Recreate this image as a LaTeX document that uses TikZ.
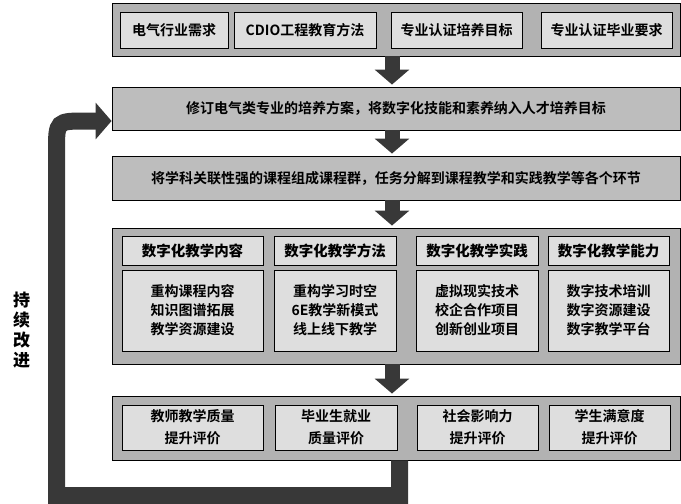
\documentclass[tikz,border=0pt]{standalone}
\usepackage{fontspec}
\setmainfont{Noto Sans CJK SC}[UprightFont=* Bold,BoldFont=* Black]
\usetikzlibrary{arrows.meta,shadows}

\tikzset{
  edge/.style={draw=black, line width=0.9pt, drop shadow={shadow xshift=1.2pt, shadow yshift=-1.2pt, opacity=0.45}},
  panel/.style={edge, fill=black!30, minimum width=568pt, inner sep=0pt},
  band/.style={edge, fill=black!26, minimum width=568pt, inner sep=0pt, font=\fontsize{14}{18}\selectfont},
  cell/.style={edge, fill=black!13, align=center, inner sep=0pt, font=\fontsize{14}{19}\selectfont},
  headcell/.style={cell, font=\bfseries\fontsize{14.5}{18}\selectfont},
  flow/.style={draw=black!78, line width=15pt, shorten >=2pt, -{Triangle[width=34pt,length=15pt]}},
  loopline/.style={draw=black!78, line width=17pt, -{Triangle[width=36pt,length=16pt]}},
}

\begin{document}
\begin{tikzpicture}[x=1pt,y=-1pt]
\useasboundingbox (0,0) rectangle (681,504);
% feedback loop
\node[panel, minimum height=64pt] (assess) at (396,428) {};
\node[band, minimum height=43pt] (plan) at (396,108.5) {修订电气类专业的培养方案，将数字化技能和素养纳入人才培养目标};
\draw[loopline] ([xshift=3.5pt]assess.south) |- (56.5,495.5) -- (56.5,151)
  .. controls (56.5,121) .. (86.5,121) -- ([yshift=-12.5pt]plan.west);
\node[font=\bfseries\fontsize{17}{20}\selectfont, align=center] (improve) at (21.5,330) {持\\续\\改\\进};

% inputs
\node[panel, minimum height=53pt] (inputs) at (396,29.5) {};
\node[cell, minimum width=108pt, minimum height=36pt] (in1) at (174,30) {电气行业需求};
\node[cell, minimum width=142pt, minimum height=36pt] (in2) at (305,30) {CDIO工程教育方法};
\node[cell, minimum width=131pt, minimum height=36pt] (in3) at (456.5,30) {专业认证培养目标};
\node[cell, minimum width=131pt, minimum height=36pt] (in4) at (606.5,30) {专业认证毕业要求};

\node[band, minimum height=44pt] (group) at (396,178) {将学科关联性强的课程组成课程群，任务分解到课程教学和实践教学等各个环节};

% digital teaching
\node[panel, minimum height=136pt] (digital) at (396,296) {};
\node[headcell, minimum width=141pt, minimum height=29pt] (h1) at (192.5,250.5) {数字化教学内容};
\node[headcell, minimum width=122pt, minimum height=29pt] (h2) at (335,250.5) {数字化教学方法};
\node[headcell, minimum width=122pt, minimum height=29pt] (h3) at (477,250.5) {数字化教学实践};
\node[headcell, minimum width=121pt, minimum height=29pt] (h4) at (608.5,250.5) {数字化教学能力};
\node[cell, minimum width=141pt, minimum height=81pt] (c1) at (192.5,310.5) {重构课程内容\\知识图谱拓展\\教学资源建设};
\node[cell, minimum width=122pt, minimum height=81pt] (c2) at (335,310.5) {重构学习时空\\6E教学新模式\\线上线下教学};
\node[cell, minimum width=122pt, minimum height=81pt] (c3) at (477,310.5) {虚拟现实技术\\校企合作项目\\创新创业项目};
\node[cell, minimum width=121pt, minimum height=81pt] (c4) at (608.5,310.5) {数字技术培训\\数字资源建设\\数字教学平台};

% evaluation
\node[cell, minimum width=141pt, minimum height=45pt, font=\fontsize{14}{22}\selectfont] (e1) at (192.5,427.5) {教师教学质量\\提升评价};
\node[cell, minimum width=122pt, minimum height=45pt, font=\fontsize{14}{22}\selectfont] (e2) at (336,427.5) {毕业生就业\\质量评价};
\node[cell, minimum width=121pt, minimum height=45pt, font=\fontsize{14}{22}\selectfont] (e3) at (477.5,427.5) {社会影响力\\提升评价};
\node[cell, minimum width=121pt, minimum height=45pt, font=\fontsize{14}{22}\selectfont] (e4) at (609.5,427.5) {学生满意度\\提升评价};

% flow arrows
\draw[flow] ([xshift=-4pt]inputs.south) -- ([xshift=-4pt]plan.north);
\draw[flow] ([xshift=-4pt]plan.south) -- ([xshift=-4pt]group.north);
\draw[flow] ([xshift=-4pt]group.south) -- ([xshift=-4pt]digital.north);
\draw[flow] ([xshift=-4pt]digital.south) -- ([xshift=-4pt]assess.north);
\end{tikzpicture}
\end{document}
